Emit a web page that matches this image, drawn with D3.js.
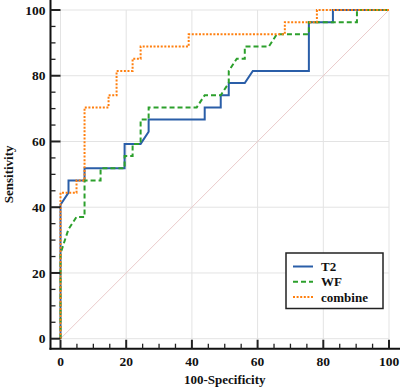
<!DOCTYPE html>
<html>
<head>
<meta charset="utf-8">
<script src="https://cdn.jsdelivr.net/npm/d3@7"></script>
<style>
  body { margin: 0; background: #fff; }
  #wrapper { width: 400px; height: 387px; }
  text { font-family: "Liberation Serif", "Times New Roman", serif; font-weight: bold; fill: #111; }
</style>
</head>
<body>
<div id="wrapper"></div>
<script>
// ROC points, 100-specificity (x) and sensitivity (y), in %
const t2X = [0, 0, 2.44, 2.44, 7.32, 7.32, 19.51, 19.51, 24.39, 26.83, 26.83, 43.9, 43.9, 48.78, 48.78, 51.22, 51.22, 56.1, 58.54, 75.61, 75.61, 82.93, 82.93, 100]
const t2Y = [0, 40.74, 44.44, 48.15, 48.15, 51.85, 51.85, 59.26, 59.26, 62.96, 66.67, 66.67, 70.37, 70.37, 74.07, 74.07, 77.78, 77.78, 81.48, 81.48, 96.3, 96.3, 100, 100]

const wfX = [0, 0, 2.44, 4.88, 7.32, 7.32, 12.2, 12.2, 19.51, 19.51, 21.95, 21.95, 24.39, 24.39, 26.83, 26.83, 41.46, 43.9, 48.78, 51.22, 51.22, 53.66, 56.1, 56.1, 63.41, 65.85, 75.61, 75.61, 90.24, 90.24, 100]
const wfY = [0, 25.93, 33.33, 37.04, 37.04, 48.15, 48.15, 51.85, 51.85, 55.56, 55.56, 59.26, 59.26, 66.67, 66.67, 70.37, 70.37, 74.07, 74.07, 77.78, 81.48, 85.19, 85.19, 88.89, 88.89, 92.59, 92.59, 96.3, 96.3, 100, 100]

const combineX = [0, 0, 4.88, 4.88, 7.32, 7.32, 14.63, 14.63, 17.07, 17.07, 21.95, 21.95, 24.39, 24.39, 39.02, 39.02, 68.29, 68.29, 78.05, 78.05, 100]
const combineY = [0, 44.44, 44.44, 48.15, 48.15, 70.37, 70.37, 74.07, 74.07, 81.48, 81.48, 85.19, 85.19, 88.89, 88.89, 92.59, 92.59, 96.3, 96.3, 100, 100]

const seriesNames = ["T2", "WF", "combine"]
const majorTicks = [0, 20, 40, 60, 80, 100]
const minorTicks = d3.range(0, 101, 5)

const series = [
    { name: seriesNames[0], xs: t2X, ys: t2Y, color: "#2a5ea8", dash: null },
    { name: seriesNames[1], xs: wfX, ys: wfY, color: "#2ca02c", dash: "5,3" },
    { name: seriesNames[2], xs: combineX, ys: combineY, color: "#ff7f0e", dash: "2,1.6" },
]

// dimensions
let dimensions = {
    width: 400,
    height: 387,
    margin: { top: 10, right: 11, bottom: 48.3, left: 60.5 },
}
dimensions.boundedWidth = dimensions.width - dimensions.margin.left - dimensions.margin.right
dimensions.boundedHeight = dimensions.height - dimensions.margin.top - dimensions.margin.bottom
const axisOffset = 10

const wrapper = d3.select("#wrapper")
    .append("svg")
    .attr("width", dimensions.width)
    .attr("height", dimensions.height)

const bounds = wrapper.append("g")
    .attr("transform", `translate(${dimensions.margin.left}, ${dimensions.margin.top})`)

// scales
const xScale = d3.scaleLinear()
    .domain([0, 100])
    .range([0, dimensions.boundedWidth])

const yScale = d3.scaleLinear()
    .domain([0, 100])
    .range([dimensions.boundedHeight, 0])

// grid
bounds.append("g").selectAll("line")
    .data(majorTicks)
    .join("line")
    .attr("x1", d => xScale(d)).attr("x2", d => xScale(d))
    .attr("y1", 0).attr("y2", dimensions.boundedHeight)
    .attr("stroke", "#e3e3e3").attr("stroke-width", 1)

bounds.append("g").selectAll("line")
    .data(majorTicks)
    .join("line")
    .attr("x1", 0).attr("x2", dimensions.boundedWidth)
    .attr("y1", d => yScale(d)).attr("y2", d => yScale(d))
    .attr("stroke", "#e3e3e3").attr("stroke-width", 1)

// reference diagonal
bounds.append("line")
    .attr("x1", xScale(0)).attr("y1", yScale(0))
    .attr("x2", xScale(100)).attr("y2", yScale(100))
    .attr("stroke", "#ebcccc").attr("stroke-width", 1)

// curves
const lineGenerator = d3.line()
    .x(d => xScale(d[0]))
    .y(d => yScale(d[1]))

series.forEach(s => {
    bounds.append("path")
        .attr("d", lineGenerator(s.xs.map((x, i) => [x, s.ys[i]])))
        .attr("fill", "none")
        .attr("stroke", s.color)
        .attr("stroke-width", 2)
        .attr("stroke-dasharray", s.dash)
})

// axes (offset from plot, ticks pointing inward)
const yAxis = bounds.append("g")
    .attr("transform", `translate(${-axisOffset}, 0)`)
yAxis.append("line")
    .attr("x1", 0).attr("x2", 0)
    .attr("y1", -dimensions.margin.top).attr("y2", dimensions.boundedHeight + axisOffset + 1)
    .attr("stroke", "#111").attr("stroke-width", 2)
yAxis.selectAll(".minor")
    .data(minorTicks)
    .join("line")
    .attr("x1", 0).attr("x2", d => majorTicks.includes(d) ? axisOffset : 5)
    .attr("y1", d => yScale(d)).attr("y2", d => yScale(d))
    .attr("stroke", "#222")
    .attr("stroke-width", d => majorTicks.includes(d) ? 2 : 1.3)
yAxis.selectAll("text")
    .data(majorTicks)
    .join("text")
    .attr("x", -5)
    .attr("y", d => yScale(d))
    .attr("dy", "0.35em")
    .attr("text-anchor", "end")
    .style("font-size", "13.5px")
    .text(d => d)

const xAxis = bounds.append("g")
    .attr("transform", `translate(0, ${dimensions.boundedHeight + axisOffset})`)
xAxis.append("line")
    .attr("x1", -axisOffset - 1).attr("x2", dimensions.width - dimensions.margin.left)
    .attr("y1", 0).attr("y2", 0)
    .attr("stroke", "#111").attr("stroke-width", 2)
xAxis.selectAll(".minor")
    .data(minorTicks)
    .join("line")
    .attr("x1", d => xScale(d)).attr("x2", d => xScale(d))
    .attr("y1", 0).attr("y2", d => majorTicks.includes(d) ? -9 : -5)
    .attr("stroke", "#222")
    .attr("stroke-width", d => majorTicks.includes(d) ? 2 : 1.3)
xAxis.selectAll("text")
    .data(majorTicks)
    .join("text")
    .attr("x", d => xScale(d))
    .attr("y", 17)
    .attr("text-anchor", "middle")
    .style("font-size", "13.5px")
    .text(d => d)

// axis labels
wrapper.append("text")
    .attr("x", dimensions.margin.left + dimensions.boundedWidth / 2)
    .attr("y", 384)
    .attr("text-anchor", "middle")
    .style("font-size", "13px")
    .text("100-Specificity")

wrapper.append("text")
    .attr("transform", `translate(13, ${dimensions.margin.top + dimensions.boundedHeight / 2}) rotate(-90)`)
    .attr("text-anchor", "middle")
    .style("font-size", "13px")
    .text("Sensitivity")

// legend
const legend = wrapper.append("g")
    .attr("transform", "translate(286, 253)")
legend.append("rect")
    .attr("width", 97).attr("height", 55.5)
    .attr("fill", "#fff")
    .attr("stroke", "#222").attr("stroke-width", 1.5)
const legendItems = legend.selectAll(".item")
    .data(series)
    .join("g")
    .attr("transform", (d, i) => `translate(0, ${13.5 + i * 15.3})`)
legendItems.append("line")
    .attr("x1", 7).attr("x2", 27)
    .attr("stroke", d => d.color)
    .attr("stroke-width", 2)
    .attr("stroke-dasharray", d => d.dash)
legendItems.append("text")
    .attr("x", 35)
    .attr("dy", "0.35em")
    .style("font-size", "13px")
    .text(d => d.name)
</script>
</body>
</html>
